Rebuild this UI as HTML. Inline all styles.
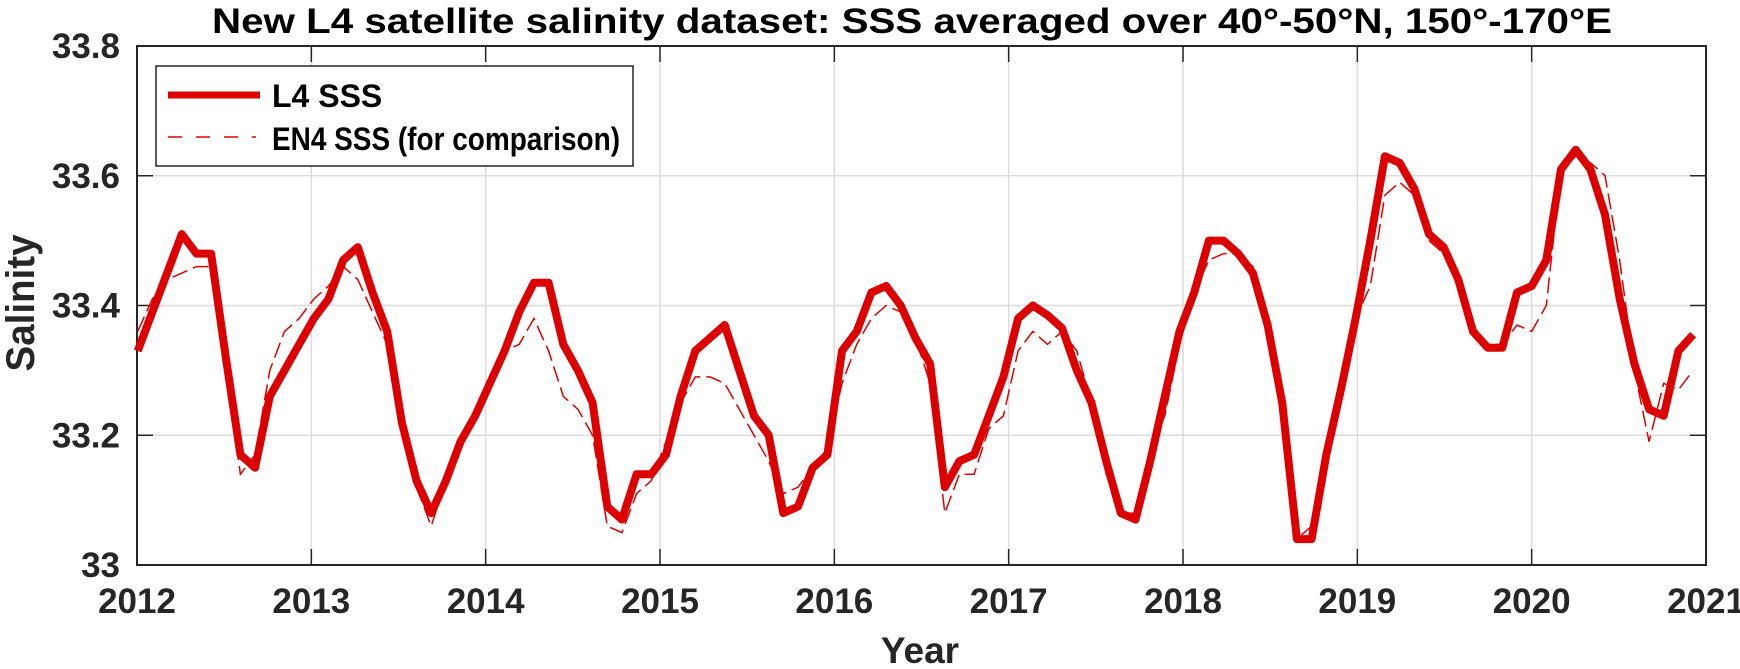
<!DOCTYPE html>
<html><head><meta charset="utf-8"><style>
body{margin:0;background:#fff;}
svg{display:block;font-family:"Liberation Sans",Arial,sans-serif;}
</style></head><body>
<svg id="chart" width="1740" height="669">
<text x="912" y="33" text-anchor="middle" font-size="35" font-weight="bold" fill="#000" textLength="1400" lengthAdjust="spacingAndGlyphs">New L4 satellite salinity dataset: SSS averaged over 40°-50°N, 150°-170°E</text>
<g id="grid"></g><g id="axes"></g><g id="series"></g>
<text x="920" y="663" text-anchor="middle" font-size="37" font-weight="bold" fill="#262626">Year</text>
<text transform="translate(34,303) rotate(-90)" text-anchor="middle" font-size="40" font-weight="bold" fill="#262626" textLength="137" lengthAdjust="spacingAndGlyphs">Salinity</text>
<g>
<rect x="156" y="66" width="477" height="100" fill="#fff" stroke="#262626" stroke-width="1.5"/>
<line x1="168" y1="95" x2="260" y2="95" stroke="#dd0000" stroke-width="7"/>
<text x="272" y="107" font-size="32" font-weight="bold" fill="#000">L4 SSS</text>
<line x1="168" y1="137" x2="256" y2="137" stroke="#dd0000" stroke-width="1.5" stroke-dasharray="14,14"/>
<text x="272" y="150" font-size="32" font-weight="bold" fill="#000" textLength="348" lengthAdjust="spacingAndGlyphs">EN4 SSS (for comparison)</text>
</g>
</svg>
<script>
const xTicks=[2012,2013,2014,2015,2016,2017,2018,2019,2020,2021];
const yTicks=[33,33.2,33.4,33.6,33.8];
const yTickLabels=["33","33.2","33.4","33.6","33.8"];
const startYear=2012;
const l4=[33.33,33.39,33.45,33.51,33.48,33.48,33.32,33.17,33.15,33.26,33.30,33.34,
33.38,33.41,33.47,33.49,33.42,33.36,33.22,33.13,33.08,33.13,33.19,33.23,
33.28,33.33,33.39,33.435,33.435,33.34,33.30,33.25,33.09,33.07,33.14,33.14,
33.17,33.26,33.33,33.35,33.37,33.30,33.23,33.20,33.08,33.09,33.15,33.17,
33.33,33.36,33.42,33.43,33.40,33.35,33.31,33.12,33.16,33.17,33.23,33.29,
33.38,33.40,33.385,33.365,33.30,33.25,33.16,33.08,33.07,33.16,33.26,33.36,
33.42,33.50,33.50,33.48,33.45,33.37,33.25,33.04,33.04,33.17,33.27,33.38,
33.50,33.63,33.62,33.58,33.51,33.49,33.44,33.36,33.335,33.335,33.42,33.43,
33.47,33.61,33.64,33.61,33.54,33.41,33.31,33.24,33.23,33.33,33.355];
const en4=[33.36,33.41,33.44,33.45,33.46,33.46,33.30,33.14,33.17,33.30,33.36,33.38,
33.41,33.43,33.46,33.44,33.39,33.34,33.22,33.12,33.06,33.13,33.19,33.24,
33.29,33.33,33.34,33.38,33.33,33.26,33.24,33.20,33.06,33.05,33.11,33.13,
33.19,33.25,33.29,33.29,33.28,33.24,33.20,33.16,33.11,33.12,33.15,33.18,
33.28,33.34,33.38,33.40,33.39,33.35,33.28,33.08,33.14,33.14,33.21,33.23,
33.33,33.36,33.34,33.36,33.33,33.25,33.14,33.08,33.08,33.18,33.23,33.34,
33.42,33.47,33.48,33.48,33.46,33.37,33.25,33.04,33.06,33.16,33.26,33.38,
33.43,33.57,33.59,33.57,33.50,33.48,33.44,33.36,33.34,33.34,33.37,33.36,
33.40,33.61,33.63,33.62,33.60,33.47,33.30,33.19,33.28,33.27,33.30];
const L=137,R=1706,T=46,B=565;
const xS=t=>L+(t-2012)/(2021-2012)*(R-L);
const yS=v=>B-(v-33)/(33.8-33)*(B-T);
const NS="http://www.w3.org/2000/svg";
function mk(tag,attrs,parent){const e=document.createElementNS(NS,tag);for(const k in attrs)e.setAttribute(k,attrs[k]);parent.appendChild(e);return e;}
const grid=document.getElementById('grid'),axes=document.getElementById('axes'),series=document.getElementById('series');
xTicks.forEach((t,i)=>{
  const g=mk('line',{x1:xS(t),x2:xS(t),y1:T,y2:B,stroke:'#dcdcdc','stroke-width':1.5},grid);
  
  
  const tk=mk('line',{x1:xS(t),x2:xS(t),y1:B,y2:B-16,stroke:'#262626','stroke-width':1.5},axes);
  
  
  const tk2=mk('line',{x1:xS(t),x2:xS(t),y1:T,y2:T+16,stroke:'#262626','stroke-width':1.5},axes);
  
  
  const lb=mk('text',{x:xS(t),y:B+48,'text-anchor':'middle','font-size':35,'font-weight':'bold',fill:'#262626'},axes);
  lb.textContent=String(t);
  
  
});
yTicks.forEach((v,i)=>{
  const g=mk('line',{x1:L,x2:R,y1:yS(v),y2:yS(v),stroke:'#dcdcdc','stroke-width':1.5},grid);
  
  
  const tk=mk('line',{x1:L,x2:L+16,y1:yS(v),y2:yS(v),stroke:'#262626','stroke-width':1.5},axes);
  
  
  const tk2=mk('line',{x1:R,x2:R-16,y1:yS(v),y2:yS(v),stroke:'#262626','stroke-width':1.5},axes);
  
  
  const lb=mk('text',{x:L-17,y:yS(v)+12,'text-anchor':'end','font-size':35,'font-weight':'bold',fill:'#262626'},axes);
  lb.textContent=yTickLabels[i];
  
  
});
const box=mk('rect',{x:L,y:T,width:R-L,height:B-T,fill:'none',stroke:'#262626','stroke-width':2},axes);


function pts(arr){return arr.map((v,i)=>xS(startYear+(i+0.05)/12*1.01).toFixed(1)+','+yS(v).toFixed(1)).join(' ');}
const en=mk('polyline',{points:pts(en4),fill:'none',stroke:'#dd0000','stroke-width':1.5,'stroke-dasharray':'16,6'},series);


const l=mk('polyline',{points:pts(l4),fill:'none',stroke:'#dd0000','stroke-width':8,'stroke-linejoin':'round'},series);


</script>
</body></html>
